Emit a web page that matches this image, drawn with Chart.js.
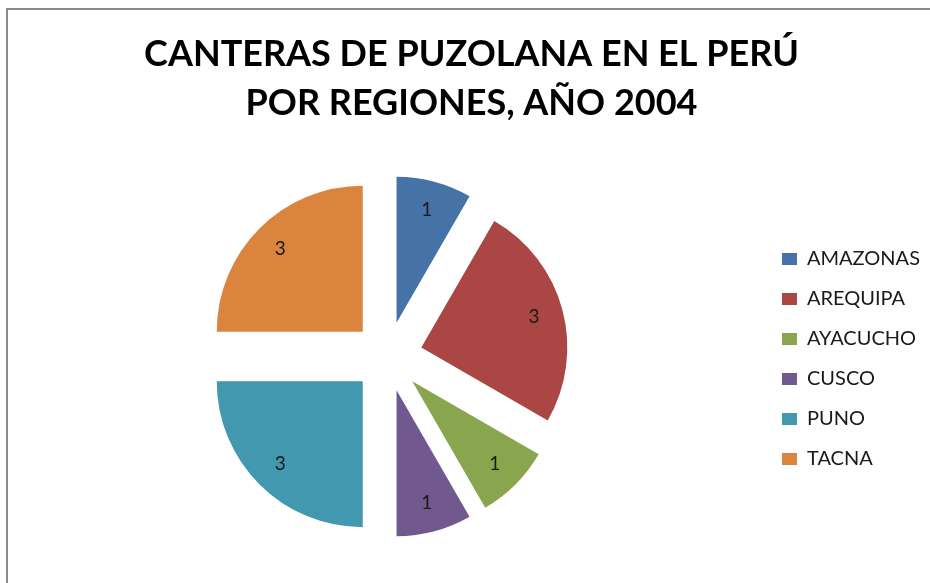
<!DOCTYPE html>
<html>
<head>
<meta charset="utf-8">
<script src="https://cdn.jsdelivr.net/npm/chart.js@4.4.1/dist/chart.umd.min.js"></script>
<style>
  html, body { margin: 0; padding: 0; background: #fff; }
  #wrap { position: relative; width: 930px; height: 583px; overflow: hidden; }
  #frame { position: absolute; left: 6px; top: 8px; width: 1000px; height: 1000px; border: 2px solid #8a8a8a; }
  canvas { position: absolute; left: 0; top: 0; }
</style>
</head>
<body>
<div id="wrap">
  <div id="frame"></div>
  <canvas id="chart" width="930" height="583"></canvas>
</div>
<script>
const titleLines = ['CANTERAS DE PUZOLANA EN EL PERÚ', 'POR REGIONES, AÑO 2004'];
const regions = ['AMAZONAS', 'AREQUIPA', 'AYACUCHO', 'CUSCO', 'PUNO', 'TACNA'];
const quarries = [1, 3, 1, 1, 3, 3];
const sliceColors = ['#4572A7', '#AA4643', '#89A54E', '#71588F', '#4198AF', '#DB843D'];

const EXPLODE = 35; // how far each slice is pulled out from the centre

// pull every slice out along its middle angle (same distance for all)
const explodePlugin = {
  id: 'explode',
  beforeDatasetDraw(chart, args) {
    const ctx = chart.ctx;
    args.meta.data.forEach(arc => {
      const mid = (arc.startAngle + arc.endAngle) / 2;
      ctx.save();
      ctx.translate(Math.cos(mid) * EXPLODE, Math.sin(mid) * EXPLODE);
      arc.draw(ctx);
      ctx.restore();
    });
    return false;
  }
};

// value labels inside the slices
const valueLabels = {
  id: 'valueLabels',
  afterDatasetsDraw(chart) {
    const ctx = chart.ctx;
    const meta = chart.getDatasetMeta(0);
    ctx.save();
    ctx.font = '19px Lato';
    ctx.fillStyle = '#1a1a1a';
    ctx.textAlign = 'center';
    ctx.textBaseline = 'middle';
    meta.data.forEach((arc, i) => {
      const mid = (arc.startAngle + arc.endAngle) / 2;
      const r = EXPLODE + arc.outerRadius * 0.8;
      ctx.fillText(chart.data.datasets[0].data[i], arc.x + Math.cos(mid) * r, arc.y + Math.sin(mid) * r);
    });
    ctx.restore();
  }
};

const ctx = document.getElementById('chart').getContext('2d');
new Chart(ctx, {
  type: 'pie',
  data: {
    labels: regions,
    datasets: [{
      data: quarries,
      backgroundColor: sliceColors,
      borderWidth: 0,
      hoverOffset: 0
    }]
  },
  options: {
    responsive: false,
    animation: false,
    events: [],
    radius: 146,
    layout: { padding: { left: 13, right: 0, top: 0, bottom: 10 } },
    plugins: {
      title: {
        display: true,
        text: titleLines,
        color: '#000',
        font: { family: 'Lato', size: 36, weight: 'bold', lineHeight: 1.36 },
        padding: { top: 30, bottom: 12 }
      },
      legend: {
        position: 'right',
        // empty legend title only used to push the entries down
        title: { display: true, text: '', font: { size: 10, lineHeight: 1 }, padding: { top: 135, bottom: 0 } },
        labels: {
          boxWidth: 15,
          boxHeight: 12,
          padding: 20,
          color: '#1a1a1a',
          font: { family: 'Lato', size: 20 }
        }
      },
      tooltip: { enabled: false }
    }
  },
  plugins: [explodePlugin, valueLabels]
});
</script>
</body>
</html>
